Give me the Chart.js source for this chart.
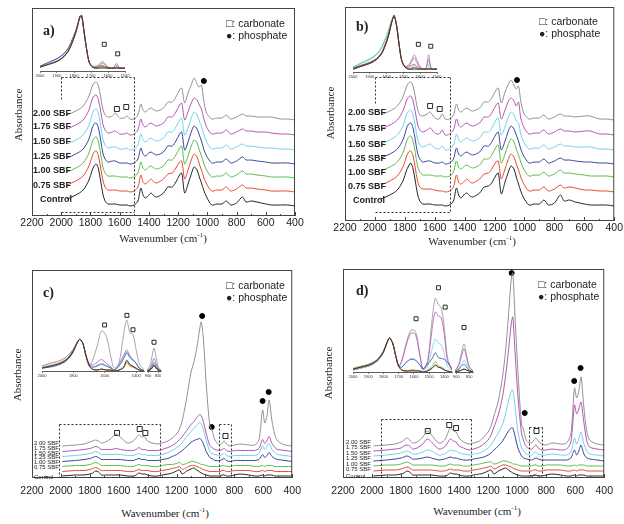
<!DOCTYPE html>
<html>
<head>
<meta charset="utf-8">
<script src="https://cdn.jsdelivr.net/npm/chart.js@4.4.1/dist/chart.umd.min.js"></script>
<style>
  body { margin: 0; background: #fff; }
  #page { position: relative; width: 624px; height: 524px; overflow: hidden; background: #fff; }
  #page canvas { position: absolute; }
  .t { position: absolute; white-space: nowrap; color: #222; font-family: "Liberation Sans", Arial, sans-serif; line-height: 1; transform: translateY(-50%); }
  .sbf { font-weight: bold; font-size: 9px; }
  .sbf.small { font-weight: normal; font-size: 6px; }
  .leg { font-size: 10.5px; }
  .panel { font-family: "Liberation Serif", serif; font-weight: bold; font-size: 14px; }
  .ylab { font-family: "Liberation Serif", serif; font-size: 11px; transform: translate(-50%, -50%) rotate(-90deg); }
  .xlab { font-family: "Liberation Serif", serif; font-size: 11px; transform: translate(-50%, -50%); }
</style>
</head>
<body>
<div id="page"></div>
<script>
const names = ['Control', '0.75 SBF', '1.00 SBF', '1.25 SBF', '1.50 SBF', '1.75 SBF', '2.00 SBF'];
const colors = ['#262626', '#ea4a33', '#5cbd4f', '#3c46a0', '#72d2ea', '#b655b4', '#929292'];

// wavenumbers (cm-1) for the main spectra of a) and b)
const wnAB = [1960, 1900, 1850, 1810, 1790, 1775, 1760, 1745, 1730, 1715,
  1700, 1680, 1650, 1630, 1600, 1570, 1550, 1530, 1500, 1475,
  1455, 1440, 1425, 1400, 1385, 1365, 1345, 1300, 1270, 1240,
  1215, 1190, 1175, 1155, 1130, 1110, 1090, 1070, 1055, 1040,
  1025, 1005, 970, 935, 900, 870, 840, 800, 760, 735,
  700, 660, 600, 560, 500, 450, 400];

// a) absorbance (a.u., read from the picture) per sample
const aControl = [8,12,17,27,36,41,43,38,26,13, 6,3,3,3,2,2,2,1,2,6, 19,12,9,12,14,11,10,14,20,20, 25,32,34,14,24,33,40,37,30,24, 17,10,2,3,3,6,2,4,10,5, 6,5,3,2,2,2,1];
const a075 = [8,12,17,27,36,41,42,37,25,13, 6,3,3,3,2,2,2,1,2,6, 18,11,9,12,14,11,10,14,19,20, 25,31,32,14,24,33,39,36,29,23, 16,9,2,3,3,6,2,4,8,5, 5,4,3,2,2,2,1];
const a100 = [7,11,16,26,36,41,42,37,25,12, 6,3,3,3,2,2,2,1,2,6, 17,11,9,12,13,11,10,13,19,19, 24,31,33,15,24,33,39,36,29,23, 16,9,2,3,3,6,2,4,8,5, 5,4,3,2,2,2,1];
const a125 = [7,11,16,26,36,41,42,37,25,12, 6,3,4,4,2,2,2,1,2,6, 17,11,9,12,13,11,10,13,19,19, 24,31,33,15,24,33,39,36,30,24, 16,9,2,3,3,6,2,4,8,5, 5,4,3,2,2,2,1];
const a150 = [7,11,16,26,36,41,42,37,25,12, 6,3,4,4,2,2,3,1,2,6, 17,11,9,12,13,11,10,13,19,19, 24,31,33,16,24,33,39,36,30,25, 17,9,2,3,3,6,2,4,7,5, 5,4,3,3,2,2,1];
const a175 = [7,11,16,26,36,40,41,36,25,12, 6,3,4,5,2,2,3,1,2,6, 17,11,9,12,13,11,10,13,19,19, 24,31,33,16,25,33,38,36,31,27, 18,9,2,3,3,6,2,4,7,5, 5,4,4,3,2,2,1];
const a200 = [6,10,15,25,34,38,39,35,24,12, 6,4,5,8,3,3,5,2,2,6, 17,11,9,12,13,11,10,13,19,19, 24,31,33,18,29,36,43,37,34,36, 21,8,2,3,3,6,2,4,7,5, 5,4,4,4,2,2,1];
const aOffset = [9, 23, 37, 51, 65, 80, 95];

// b)
const bControl = [8,12,17,27,36,41,44,38,26,13, 6,3,3,3,2,2,2,1,2,6, 19,12,9,13,14,11,10,14,20,21, 25,32,34,13,25,34,41,38,30,23, 16,9,2,3,3,7,2,4,12,6, 7,5,3,2,2,2,1];
const b075 = [8,12,17,27,36,41,42,37,25,12, 6,4,4,4,3,2,2,1,2,6, 18,11,9,12,14,11,10,14,19,20, 25,31,32,14,24,33,39,36,29,23, 16,9,2,3,3,6,2,4,8,5, 6,5,3,3,2,2,1];
const b100 = [7,11,16,26,36,41,42,37,25,12, 6,3,3,3,2,2,2,1,2,6, 17,11,9,12,13,11,10,13,19,19, 24,31,33,15,24,33,39,36,29,23, 16,9,2,3,3,6,2,4,8,5, 5,4,3,2,2,2,1];
const b125 = [7,11,16,26,36,41,42,37,25,12, 6,3,4,4,2,2,3,1,2,6, 17,11,9,12,13,11,10,13,19,19, 24,31,33,15,24,33,39,36,30,24, 16,9,2,3,3,6,2,4,7,5, 5,4,3,3,2,2,1];
const b150 = [7,11,16,26,36,40,41,36,25,12, 6,4,6,7,3,2,5,1,2,6, 17,11,9,12,13,11,10,13,19,19, 24,31,33,16,24,33,39,36,30,28, 17,9,2,3,3,6,2,4,7,5, 5,4,4,4,2,2,1];
const b175 = [7,11,16,26,35,39,40,35,24,12, 6,4,6,8,3,2,6,1,2,6, 17,11,9,12,13,11,10,13,19,19, 24,31,33,17,26,34,38,35,30,34, 18,9,2,3,3,6,2,4,7,5, 5,4,5,5,2,2,1];
const b200 = [6,10,15,25,34,38,39,35,24,12, 6,5,7,9,3,2,7,2,2,6, 17,11,9,12,13,11,10,13,19,19, 24,31,33,18,29,36,41,36,32,35, 20,8,2,3,3,6,2,4,7,5, 5,4,5,5,2,2,1];
const bOffset = [14, 28, 43, 56, 70, 85, 100];

// wavenumbers for the main spectra of c) and d)
const wnCD = [1990, 1900, 1840, 1800, 1780, 1760, 1740, 1720, 1690, 1650,
  1620, 1590, 1540, 1500, 1480, 1460, 1440, 1420, 1400, 1370,
  1330, 1300, 1260, 1230, 1200, 1180, 1160, 1130, 1100, 1080,
  1060, 1040, 1030, 1015, 995, 970, 955, 935, 900, 885,
  870, 855, 830, 800, 760, 700, 660, 630, 605, 590,
  575, 560, 540, 520, 500, 450, 400];

// c)
const cControl = [0,1,1,2,3,5,4,1,1,1, 1,1,0,0,1,3,2,2,1,0, 0,1,2,3,5,6,2,5,7,8, 6,4,3,2,1,0,0,0,0,1, 1,0,0,1,2,1,0,0,1,0, 1,1,1,0,0,0,0];
const c075 = [0,1,1,2,3,4,3,1,1,1, 1,1,0,0,1,2,1,1,1,0, 0,1,2,3,4,5,2,4,6,6, 5,4,3,2,1,0,0,0,0,1, 1,0,0,1,1,1,0,0,1,0, 1,1,1,0,0,0,0];
const c100 = [0,1,1,2,3,4,3,1,1,1, 1,1,0,0,1,2,1,1,1,0, 0,1,2,2,3,4,2,3,5,5, 4,3,2,2,1,0,0,0,0,1, 1,0,0,1,1,1,0,0,1,0, 1,1,1,0,0,0,0];
const c125 = [0,1,2,3,4,5,4,2,2,2, 2,2,1,1,2,3,2,2,1,1, 1,2,3,5,7,9,11,15,19,21, 22,23,22,18,10,4,3,1,1,2, 3,1,0,1,1,1,1,2,7,4, 6,9,5,3,2,1,0];
const c150 = [0,1,2,3,4,5,4,2,2,2, 2,2,1,1,2,3,2,2,1,1, 1,2,4,6,9,11,14,20,25,28, 31,34,33,27,16,5,3,2,1,2, 3,1,0,1,1,1,1,3,11,7, 10,13,7,4,2,1,0];
const c175 = [0,1,2,3,4,5,4,2,2,2, 3,2,1,1,2,4,2,2,1,1, 1,2,4,6,9,12,15,21,27,30, 34,37,36,30,18,6,4,2,1,2, 3,1,0,1,1,1,1,3,12,8, 11,15,8,4,2,1,0];
const c200 = [0,1,2,4,5,6,5,3,4,8, 12,9,3,5,8,11,9,9,5,3, 2,3,5,8,12,17,26,48,74,84, 98,117,124,108,62,20,16,6,1,3, 5,2,0,1,2,1,1,6,36,23, 30,46,25,11,5,1,0];
const cOffset = [2, 6.5, 11.5, 16.5, 21.5, 26.5, 32];

// d)
const dControl = [0,1,1,2,3,5,4,1,1,1, 1,1,0,0,1,3,2,2,1,0, 0,1,2,3,5,6,2,5,7,8, 6,4,3,2,1,0,0,0,0,1, 1,0,0,1,2,1,0,0,1,0, 1,1,1,0,0,0,0];
const d075 = [0,1,1,2,3,4,3,1,1,1, 1,1,0,0,1,2,1,1,1,0, 0,1,2,3,4,5,2,4,6,6, 5,4,3,2,1,0,0,0,0,1, 1,0,0,1,1,1,0,0,1,0, 1,1,1,0,0,0,0];
const d100 = [0,1,1,2,3,4,3,1,1,1, 1,1,0,0,1,2,1,1,1,0, 0,1,2,3,4,4,2,3,5,5, 4,3,2,2,1,0,0,0,0,1, 1,0,0,1,1,1,0,0,1,0, 1,1,1,0,0,0,0];
const d125 = [0,1,2,3,4,5,4,2,2,3, 4,3,1,2,3,4,3,3,2,1, 1,2,3,4,6,8,11,15,20,25, 30,33,33,25,13,5,3,2,1,2, 3,2,1,1,1,1,1,3,11,6, 10,16,7,3,2,1,0];
const d150 = [0,1,2,3,4,5,4,2,2,4, 6,5,1,2,4,6,5,5,3,2, 1,2,3,5,8,11,16,23,32,42, 55,65,66,50,25,8,5,2,1,3, 4,2,1,1,2,1,1,4,18,12, 17,24,12,5,2,1,0];
const d175 = [0,1,2,3,5,6,5,2,3,7, 12,9,2,4,8,12,10,9,5,3, 1,2,4,7,11,16,24,36,55,75, 100,128,134,100,55,18,10,4,2,4, 6,3,1,1,2,1,2,9,46,37, 42,49,28,10,4,2,1];
const d200 = [0,1,2,4,6,8,6,3,4,9, 15,11,3,6,12,18,15,14,8,4, 2,3,5,9,14,20,30,45,70,95, 130,168,173,130,75,22,16,5,3,6, 8,5,2,1,3,2,3,12,58,48, 55,69,38,14,6,2,1];
const dOffset = [2, 7, 12, 17, 22, 27, 32];

// insets of a) and b): 2000-1500 cm-1
const wnInsAB = [2000, 1950, 1900, 1860, 1830, 1810, 1790, 1775, 1765, 1755, 1740, 1725, 1710, 1690, 1670, 1650, 1635, 1620, 1600, 1580, 1565, 1550, 1535, 1520, 1500];
const insA = [
  [4,7,10,15,22,30,40,50,57,58,40,22,9,4,3,3,3,3,3,3,3,3,3,3,3],
  [4,7,10,15,22,30,40,50,57,58,40,22,9,4,4,5,6,5,4,3,3,4,3,3,3],
  [4,7,10,15,22,30,40,50,57,58,40,22,9,4,3,4,4,4,3,3,3,3,3,3,3],
  [5,9,13,18,25,33,42,51,57,58,40,22,9,4,3,4,5,4,3,3,3,4,3,3,3],
  [4,8,11,16,23,31,41,50,57,58,40,22,9,4,3,4,5,4,3,3,3,4,3,3,3],
  [5,9,13,18,25,33,42,51,57,58,40,22,9,5,5,7,10,8,4,3,4,8,4,3,3],
  [4,7,10,15,22,30,40,50,57,58,40,22,9,4,4,6,8,7,4,3,4,6,3,3,3]
];
const insB = [
  [3,6,9,13,19,27,37,48,55,59,48,28,12,5,3,3,3,3,3,3,3,3,3,3,3],
  [3,6,9,13,19,27,37,48,55,59,48,28,12,5,5,7,8,6,4,3,3,4,3,3,3],
  [5,9,13,18,25,33,42,51,56,59,48,28,12,5,3,3,4,3,3,3,3,3,3,3,3],
  [4,7,10,14,20,28,38,49,55,59,48,28,12,5,3,4,5,4,3,3,3,4,3,3,3],
  [5,10,14,19,26,34,43,52,56,59,48,28,12,5,3,5,7,5,3,3,4,8,3,3,3],
  [4,7,10,14,20,28,38,49,55,59,48,28,12,6,6,11,15,10,5,3,4,13,4,3,3],
  [3,6,9,13,19,27,37,48,55,59,48,28,12,6,7,13,18,13,5,3,4,18,4,3,3]
];

// insets of c) and d): broken axis 2000-1350 and 905-835 cm-1
const wnInsCD1 = [2000, 1950, 1900, 1860, 1830, 1800, 1780, 1760, 1740, 1720, 1700, 1680, 1650, 1620, 1590, 1560, 1540, 1510, 1480, 1460, 1440, 1420, 1400, 1380, 1350];
const wnInsCD2 = [905, 890, 880, 870, 860, 850, 835];
const insC1 = [
  [3,5,7,10,14,21,28,33,29,16,6,2,1,2,1,1,0,1,4,11,7,5,3,1,0],
  [5,8,10,13,17,23,29,33,29,16,6,2,1,2,1,1,0,1,3,9,5,4,2,1,0],
  [4,6,8,11,15,22,28,33,29,16,6,2,1,2,1,1,0,1,4,11,6,5,3,1,0],
  [3,4,6,9,13,20,28,33,29,16,7,4,5,7,5,3,1,5,13,19,14,11,8,3,0],
  [3,5,7,9,13,20,28,33,29,16,7,4,6,8,6,3,1,6,14,20,15,12,8,3,0],
  [3,5,7,10,14,21,28,33,29,17,8,6,9,12,8,4,1,7,16,22,16,12,8,3,0],
  [3,5,7,10,14,21,28,33,29,16,5,10,25,42,36,14,3,8,38,53,40,38,22,8,1]
];
const insC2 = [[0,1,3,6,3,1,0], [0,1,3,5,3,1,0], [0,1,3,6,3,1,0], [0,2,5,8,5,2,0], [0,2,6,10,6,2,0], [0,3,8,13,8,3,0], [1,6,15,24,15,5,1]];
const insD1 = [
  [3,5,7,10,14,21,29,35,30,17,6,2,1,1,1,1,0,1,4,7,5,4,2,1,0],
  [3,5,7,10,14,21,29,35,30,17,6,2,1,2,1,1,0,1,4,7,5,4,2,1,0],
  [4,6,8,11,15,22,30,35,30,17,6,2,1,2,2,1,0,2,6,11,6,5,3,1,0],
  [3,5,7,10,14,21,29,35,30,17,6,5,10,13,12,7,3,8,14,20,15,14,13,10,3],
  [2,4,6,9,13,20,29,35,30,17,6,5,10,14,13,7,2,6,24,34,30,28,18,6,1],
  [2,4,6,9,13,20,29,35,30,17,6,11,28,40,39,16,3,10,45,62,58,56,38,12,2],
  [2,4,6,9,13,20,29,35,30,17,6,12,30,43,42,18,3,12,55,76,70,66,45,15,2]
];
const insD2 = [[0,1,2,3,2,1,0], [0,1,2,3,2,1,0], [0,1,2,3,2,1,0], [0,3,6,8,5,2,0], [0,4,8,12,8,3,0], [1,7,16,24,15,5,1], [1,8,20,29,18,6,1]];

// band markers [wavenumber, height]
const aCarb = [[1619, 107], [1555, 109]], aPhos = [[1024, 135]];
const bCarb = [[1631, 115], [1567, 112]], bPhos = [[1050, 141]];
const cCarb = [[1612, 45], [1455, 49], [1416, 45], [862, 42]], cPhos = [[1023, 162], [957, 51], [605, 77], [563, 86]];
const dCarb = [[1616, 47], [1468, 53], [1421, 50], [867, 47]], dPhos = [[1038, 205], [948, 65], [607, 97], [563, 110]];
const insACarb = [[1622, 28], [1543, 18]];
const insBCarb = [[1611, 29], [1537, 27]];
const insC1Carb = [[1601, 48], [1459, 58], [1420, 43]], insC2Carb = [[870, 30]];
const insD1Carb = [[1586, 55], [1439, 87], [1395, 67]], insD2Carb = [[870, 46]];

const page = document.getElementById('page');

const decoPlugin = {
  id: 'deco',
  afterDatasetsDraw(chart, args, o) {
    const {ctx, chartArea: ca, scales: {x, y}} = chart;
    ctx.save();
    if (o.frame) {
      ctx.strokeStyle = '#444';
      ctx.lineWidth = 1;
      ctx.strokeRect(ca.left + 0.5, ca.top + 0.5, ca.right - ca.left - 1, ca.bottom - ca.top - 1);
      for (let v = 400; v <= 2200; v += 100) {
        const px = Math.round(x.getPixelForValue(v)) + 0.5;
        const len = v % 200 === 0 ? 4 : 2;
        ctx.beginPath();
        ctx.moveTo(px, ca.bottom);
        ctx.lineTo(px, ca.bottom - len);
        ctx.stroke();
      }
    }
    if (o.dashed) {
      ctx.setLineDash([2, 2]);
      ctx.strokeStyle = '#333';
      ctx.lineWidth = 1;
      o.dashed.forEach(s => {
        ctx.beginPath();
        ctx.moveTo(Math.round(x.getPixelForValue(s[0])) + 0.5, Math.round(y.getPixelForValue(s[1])) + 0.5);
        ctx.lineTo(Math.round(x.getPixelForValue(s[2])) + 0.5, Math.round(y.getPixelForValue(s[3])) + 0.5);
        ctx.stroke();
      });
    }
    ctx.restore();
  }
};

function lineSets(grid, series, offsets, width) {
  return series.map((vals, i) => ({
    label: names[i],
    data: vals.map((v, k) => ({x: grid[k], y: v + (offsets ? offsets[i] : 0)})),
    borderColor: colors[i],
    borderWidth: width,
    pointRadius: 0,
    tension: 0.3,
    fill: false
  }));
}

function markerSets(carb, phos, r) {
  const sets = [{
    data: carb.map(p => ({x: p[0], y: p[1]})), showLine: false, pointStyle: 'rect',
    pointRadius: r * 1.4, borderColor: '#111', borderWidth: 0.9, backgroundColor: '#fff'
  }];
  if (phos) sets.push({
    data: phos.map(p => ({x: p[0], y: p[1]})), showLine: false, pointStyle: 'circle',
    pointRadius: r, borderColor: '#000', backgroundColor: '#000'
  });
  return sets;
}

// area = plot rectangle on the page, m = margins around it
function makeChart(area, m, datasets, xopt, deco) {
  const w = area.r - area.l + m.l + m.r;
  const h = area.b - area.t + m.t + m.b;
  const cv = document.createElement('canvas');
  cv.width = w; cv.height = h;
  cv.style.left = (area.l - m.l) + 'px';
  cv.style.top = (area.t - m.t) + 'px';
  cv.style.width = w + 'px';
  cv.style.height = h + 'px';
  page.appendChild(cv);
  return new Chart(cv, {
    type: 'line',
    data: {datasets},
    options: {
      responsive: false,
      animation: false,
      devicePixelRatio: 1,
      layout: {padding: {left: m.l, right: m.r, top: m.t, bottom: 0}},
      plugins: {legend: {display: false}, tooltip: {enabled: false}, deco: deco || {}},
      scales: {
        x: Object.assign({type: 'linear', reverse: true, afterFit: s => { s.height = m.b; }}, xopt),
        y: {display: false, min: 0, max: area.b - area.t}
      }
    },
    plugins: [decoPlugin]
  });
}

function mainX(pad) {
  return {
    min: 400, max: 2200,
    grid: {display: false, drawTicks: false}, border: {display: false},
    ticks: {stepSize: 200, padding: pad, color: '#222', font: {family: 'Liberation Sans', size: 10.5},
      maxRotation: 0, autoSkip: false, callback: v => String(v)}
  };
}

function insetX(min, max, step) {
  return {
    min, max,
    grid: {display: true, drawOnChartArea: false, drawTicks: true, tickLength: 2, color: '#333', lineWidth: 0.6},
    border: {display: true, color: '#333', width: 0.8},
    ticks: {stepSize: step, includeBounds: false, padding: 0.5, color: '#333', font: {family: 'Liberation Sans', size: 4},
      maxRotation: 0, autoSkip: false, callback: v => String(v)}
  };
}

function mainPanel(area, m, pad, grid, series, offsets, carb, phos, dashed) {
  const sets = lineSets(grid, series, offsets, 1).concat(markerSets(carb, phos, 2.5));
  makeChart(area, m, sets, mainX(pad), {frame: true, dashed});
}

function inset(area, grid, series, min, max, step, carb) {
  const sets = lineSets(grid, series, null, 0.8).concat(markerSets(carb, null, 2));
  makeChart(area, {l: 6, r: 6, t: 2, b: 7}, sets, insetX(min, max, step));
}

// a)
mainPanel({l: 32, r: 295, t: 8, b: 216}, {l: 32, r: 15, t: 8, b: 34}, 1, wnAB,
  [aControl, a075, a100, a125, a150, a175, a200], aOffset, aCarb, aPhos,
  [[2000, 139, 1500, 139], [1500, 139, 1500, 4], [2000, 4, 1500, 4], [2000, 139, 2000, 115]]);
inset({l: 40, r: 125, t: 8, b: 71}, wnInsAB, insA, 1500, 2000, 100, insACarb);

// b)
mainPanel({l: 345, r: 617, t: 7, b: 221}, {l: 30, r: 7, t: 7, b: 30}, 1, wnAB,
  [bControl, b075, b100, b125, b150, b175, b200], bOffset, bCarb, bPhos,
  [[2000, 144, 1500, 144], [1500, 144, 1500, 9], [2000, 9, 1500, 9], [2000, 144, 2000, 118]]);
inset({l: 353, r: 437, t: 8, b: 72}, wnInsAB, insB, 1500, 2000, 100, insBCarb);

// c)
mainPanel({l: 32, r: 293, t: 270, b: 478}, {l: 32, r: 15, t: 10, b: 22}, 7, wnCD,
  [cControl, c075, c100, c125, c150, c175, c200], cOffset, cCarb, cPhos,
  [[2015, 54, 1315, 54], [2015, 54, 2015, 1], [1315, 54, 1315, 1], [2015, 1, 1315, 1],
   [910, 54, 825, 54], [910, 54, 910, 1], [825, 54, 825, 1]]);
inset({l: 42, r: 144, t: 300, b: 371}, wnInsCD1, insC1, 1350, 2000, 200, insC1Carb);
inset({l: 147, r: 161, t: 300, b: 371}, wnInsCD2, insC2, 835, 905, 50, insC2Carb);

// d)
mainPanel({l: 343, r: 608, t: 269, b: 478}, {l: 30, r: 12, t: 10, b: 22}, 7, wnCD,
  [dControl, d075, d100, d125, d150, d175, d200], dOffset, dCarb, dPhos,
  [[1935, 59, 1320, 59], [1935, 59, 1935, 1], [1320, 59, 1320, 1], [1935, 1, 1320, 1],
   [918, 51, 832, 51], [918, 51, 918, 3], [832, 51, 832, 3], [918, 3, 832, 3]]);
inset({l: 353, r: 452, t: 280, b: 372}, wnInsCD1, insD1, 1350, 2000, 100, insD1Carb);
inset({l: 455, r: 473, t: 280, b: 372}, wnInsCD2, insD2, 835, 905, 50, insD2Carb);

// text
function text(html, x, y, cls) {
  const d = document.createElement('div');
  d.className = 't ' + cls;
  d.innerHTML = html;
  d.style.left = x + 'px';
  d.style.top = y + 'px';
  page.appendChild(d);
}

const xTitle = 'Wavenumber (cm<sup style="font-size:7px">-1</sup>)';
[
  {p: 'a)', px: 43, py: 31, lx: 226, ly: 23, ax: 18, ay: 115, wx: 163, wy: 238},
  {p: 'b)', px: 356, py: 27, lx: 539, ly: 21, ax: 330, ay: 113, wx: 472, wy: 241},
  {p: 'c)', px: 43, py: 293, lx: 226, ly: 285, ax: 17, ay: 375, wx: 165, wy: 513},
  {p: 'd)', px: 356, py: 291, lx: 538, ly: 284, ax: 328, ay: 373, wx: 477, wy: 511}
].forEach(q => {
  text(q.p, q.px, q.py, 'panel');
  text('&#9633;: carbonate', q.lx, q.ly, 'leg');
  text('&#9679;: phosphate', q.lx, q.ly + 12, 'leg');
  text('Absorbance', q.ax, q.ay, 'ylab');
  text(xTitle, q.wx, q.wy, 'xlab');
});

const aLabelY = [199, 185, 170, 156, 141, 126, 113];
const bLabelY = [200, 186, 172, 158, 144, 128, 112];
const cLabelY = [477, 467, 462, 457, 453, 448, 443];
const dLabelY = [476, 469, 464, 458, 452.5, 447, 441.5];
names.forEach((n, i) => {
  text(n, i === 0 ? 40 : 33, aLabelY[i], 'sbf');
  text(n, i === 0 ? 353 : 348, bLabelY[i], 'sbf');
  text(n, 34, cLabelY[i], 'sbf small');
  text(n, 346, dLabelY[i], 'sbf small');
});
</script>
</body>
</html>
